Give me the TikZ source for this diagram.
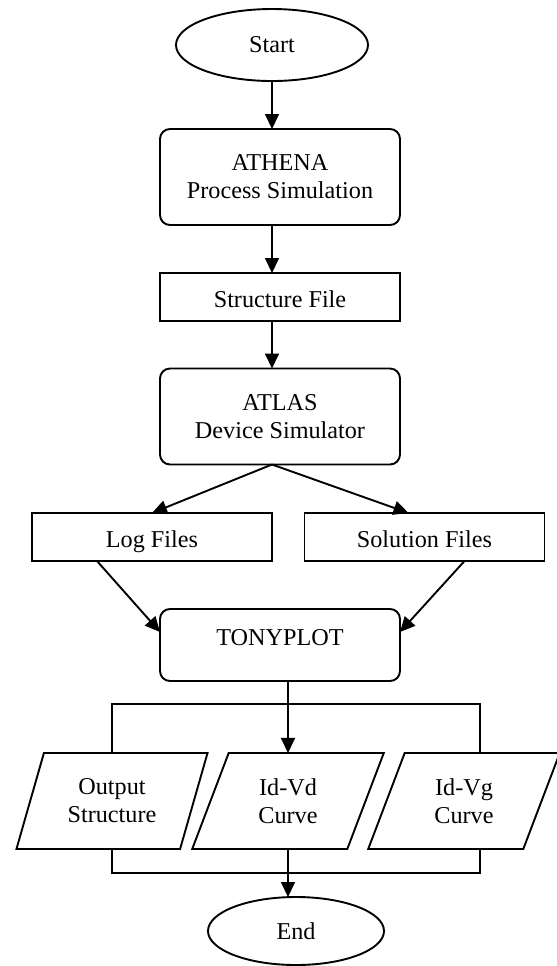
\documentclass[tikz,border=0pt]{standalone}
\usepackage{fontspec}
\setmainfont{Liberation Serif}
\usetikzlibrary{shapes.geometric,arrows.meta,calc}

\begin{document}
\begin{tikzpicture}[x=0.5pt,y=-0.5pt,outer sep=0pt,line width=0.95pt,
    font=\fontsize{12.1}{14}\selectfont]
\tikzstyle{term}=[draw, ellipse, inner sep=0pt, text centered,
    minimum width=96pt, minimum height=36pt]
\tikzstyle{proc}=[draw, rounded corners=5pt, align=center,
    minimum width=120pt, minimum height=48pt]
\tikzstyle{file}=[draw, text centered, text height=10pt, text depth=0pt,
    minimum width=120pt, minimum height=24pt]
\tikzstyle{io}=[draw, trapezium, trapezium left angle=68, trapezium right angle=112,
    trapezium stretches=true, align=center, inner sep=0pt,
    minimum width=96pt, minimum height=48pt]
\tikzstyle{arr}=[-{Triangle[length=7.5pt,width=7pt]}]
    \useasboundingbox (0,0) rectangle (557,966);
    \node (start) [term] at (272,45) {Start};
    \node (athena) [proc] at (280,177) {ATHENA\\Process Simulation};
    \node (strfile) [file] at (280,297) {Structure File};
    \node (atlas) [proc] at (280,416.5) {ATLAS\\Device Simulator};
    \node (logf) [file] at (152,537) {Log Files};
    \node (solf) [file] at (424.5,537) {Solution Files};
    \node (tony) [proc,minimum height=36pt,text depth=8pt] at (280,645) {TONYPLOT};
    \node (outstr) [io] at (112,801) {Output\\Structure};
    \node (idvd) [io] at (288,801) {Id-Vd\\Curve};
    \node (idvg) [io] at (464,801) {Id-Vg\\Curve};
    \node (stop) [term,minimum width=88pt,minimum height=34pt] at (296,931) {End};
    % top column
    \draw[arr] (start.south) -- (start |- athena.north);
    \draw[arr] (start |- athena.south) -- (start |- strfile.north);
    \draw[arr] (start |- strfile.south) -- (start |- atlas.north);
    \draw[arr] (start |- atlas.south) -- (logf.north);
    \draw[arr] (start |- atlas.south) -- ([xshift=-8pt]solf.north);
    \draw[arr] ([xshift=-27.5pt]logf.south) -- ([yshift=6.5pt]tony.west);
    \draw[arr] ([xshift=20pt]solf.south) -- ([yshift=6.5pt]tony.east);
    % outputs
    \draw[arr] (idvd |- tony.south) -- (idvd |- idvd.north);
    \draw (outstr |- outstr.north) -- ++(0,-49) -| ($(idvg |- idvg.north)+(16,0)$);
    \draw (outstr |- outstr.south) -- ++(0,24) -| ($(idvg |- idvg.south)+(16,0)$);
    \draw[arr] (idvd |- idvd.south) -- (idvd |- stop.north);
\end{tikzpicture}
\end{document}
